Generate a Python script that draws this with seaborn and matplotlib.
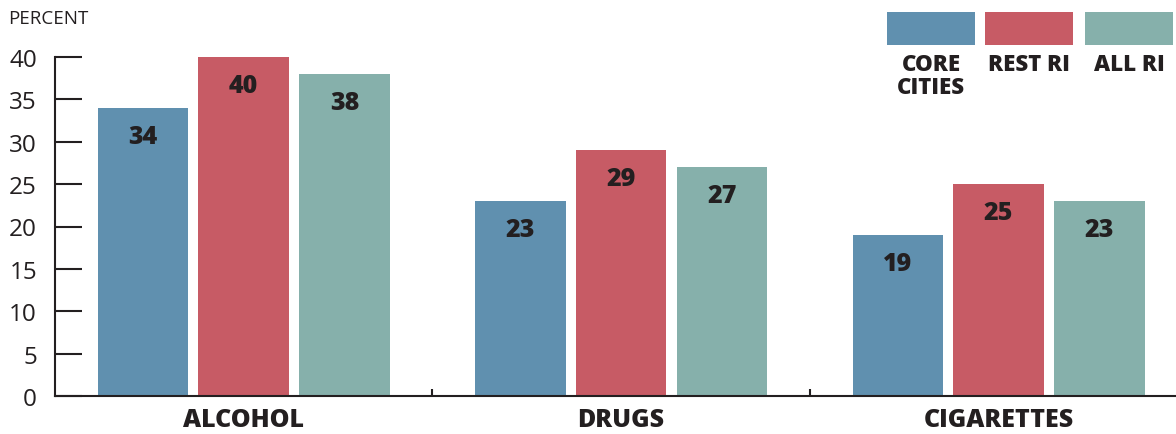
import pandas as pd
import seaborn as sns
import matplotlib.pyplot as plt
from matplotlib.patches import Rectangle

categories = ["ALCOHOL", "DRUGS", "CIGARETTES"]
groups = ["CORE\nCITIES", "REST RI", "ALL RI"]
core_cities = [34, 23, 19]
rest_ri = [40, 29, 25]
all_ri = [38, 27, 23]
colors = ["#6090AF", "#C75B65", "#86B0AB"]
yticks = [0, 5, 10, 15, 20, 25, 30, 35, 40]

df = pd.DataFrame({
    "substance": categories * 3,
    "group": [groups[0]] * 3 + [groups[1]] * 3 + [groups[2]] * 3,
    "percent": core_cities + rest_ri + all_ri,
})

sns.set_style("white")
plt.rcParams["font.family"] = ["Open Sans", "DejaVu Sans"]
ink = "#231F20"

fig = plt.figure(figsize=(11.76, 4.35), dpi=100)
ax = fig.add_axes([55 / 1176, 1 - 397 / 435, 1 - 55 / 1176, (397 - 58) / 435])

sns.barplot(data=df, x="substance", y="percent", hue="group", hue_order=groups,
            palette=colors, width=0.8, gap=0.1, legend=False, ax=ax,
            saturation=1, linewidth=0)

for cont in ax.containers:
    for bar in cont:
        h = bar.get_height()
        ax.annotate(f"{h:.0f}", (bar.get_x() + bar.get_width() / 2, h),
                    xytext=(0, -20.5), textcoords="offset points",
                    ha="center", va="center", fontsize=18, fontweight=800, color=ink)

ax.set_xlim(-0.5, 2.47)
ax.set_ylim(0, 40)
ax.set_yticks(yticks)
ax.set_xlabel("")
ax.set_ylabel("")
for s in ["top", "right"]:
    ax.spines[s].set_visible(False)
for s in ["left", "bottom"]:
    ax.spines[s].set_color(ink)
    ax.spines[s].set_linewidth(1.5)

ax.tick_params(axis="y", direction="in", length=19.5, width=1.5, color=ink,
               labelsize=17.5, labelcolor=ink, pad=13, left=True)
ax.tick_params(axis="x", length=0, labelsize=18, labelcolor=ink, pad=8)
for lbl in ax.get_xticklabels():
    lbl.set_fontweight(800)
ax.set_xticks([0.5, 1.5], minor=True)
ax.tick_params(axis="x", which="minor", direction="in", length=5, width=1.5,
               color=ink, bottom=True)

fig.text(8 / 1176, 1 - 19 / 435, "PERCENT", fontsize=13.5, color=ink,
         ha="left", va="center")

# legend: swatches with labels underneath
lx = [887, 985, 1085]
for x0, c, g in zip(lx, colors, groups):
    fig.patches.append(Rectangle((x0 / 1176, 1 - 46 / 435), 88 / 1176, 33 / 435,
                                 transform=fig.transFigure, color=c, lw=0))
    fig.text((x0 + 44) / 1176, 1 - 53 / 435, g, ha="center", va="top",
             fontsize=16, fontweight=800, color=ink, linespacing=0.95)

fig.savefig("out.png", dpi=100)
